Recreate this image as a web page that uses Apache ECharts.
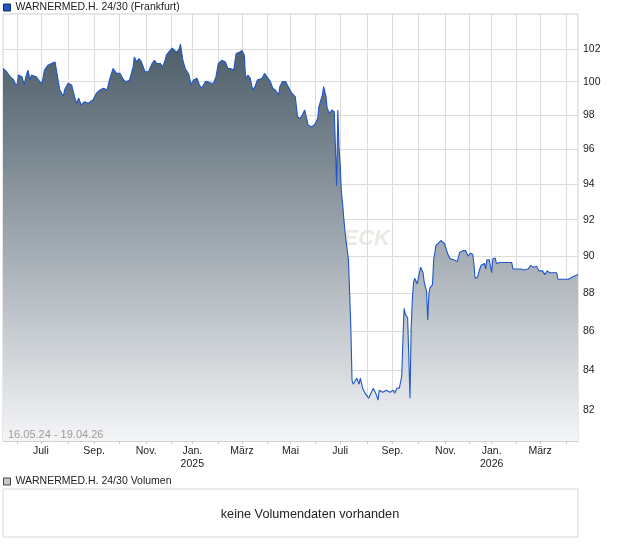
<!DOCTYPE html>
<html><head><meta charset="utf-8">
<script src="https://cdn.jsdelivr.net/npm/echarts@6/dist/echarts.min.js"></script>
<style>html,body{margin:0;padding:0;background:#fff}#c{width:620px;height:546px}</style>
</head><body><div id="c"></div>
<script>
const seriesName = 'WARNERMED.H. 24/30 (Frankfurt)';
const volumeName = 'WARNERMED.H. 24/30 Volumen';
const noVolumeText = 'keine Volumendaten vorhanden';
const rangeText = '16.05.24 - 19.04.26';
const firstDay = '2024-05-16';
const lastDay = '2026-04-17';
const holidays = ['2024-12-24','2024-12-25','2024-12-26','2024-12-31','2025-01-01','2025-04-18','2025-04-21','2025-05-01','2025-12-24','2025-12-25','2025-12-26','2025-12-31','2026-01-01','2026-04-03','2026-04-06'];
const monthNames = ['Jan.','Feb.','März','Apr.','Mai','Juni','Juli','Aug.','Sep.','Okt.','Nov.','Dez.'];
const yTicks = [82,84,86,88,90,92,94,96,98,100,102];
// trading-day number (0 = 16.05.24) and price
const priceDay = [0,3,6,9,10,12,13,14,16,18,19,21,23,24,28,31,33,35,38,41,44,45,47,48,51,52,55,58,59,62,64,65,66,69,72,76,79,82,85,88,90,93,96,99,102,104,107,110,111,113,115,117,120,123,126,128,130,133,135,137,138,140,143,145,147,149,150,152,154,157,159,161,164,166,168,171,173,176,178,180,182,185,188,190,192,195,197,200,202,204,205,207,209,211,213,215,219,221,223,226,228,230,231,233,234,236,239,241,244,247,249,251,253,255,258,261,262,264,266,267,268,270,271,273,274,276,278,280,281,282,283,284,285,286,287,288,289,290,292,293,294,295,296,297,299,301,302,304,306,309,311,313,315,317,318,321,324,327,330,331,333,335,337,338,339,340,342,343,344,345,346,347,348,350,351,353,355,356,358,359,360,361,363,364,366,368,370,373,376,378,381,384,386,389,391,393,395,397,398,399,401,403,404,407,408,409,411,413,414,416,417,420,425,430,431,435,438,440,441,444,446,448,449,451,453,456,458,460,462,468,469,473,478,479,482,486];
const priceValue = [100.8,100.6,100.3,100.1,99.9,99.8,100.4,100.4,100.3,99.8,100.2,100.7,100.1,100.4,100.3,100.0,99.9,100.7,101.0,101.1,101.2,101.1,99.9,99.5,99.1,99.5,99.9,99.8,99.5,98.7,99.0,98.9,98.6,98.8,98.7,98.9,99.3,99.5,99.6,99.5,100.1,100.8,100.5,100.5,100.1,100.0,100.1,100.9,101.5,101.2,101.4,101.2,100.6,100.6,101.1,101.3,101.1,101.1,100.9,101.3,101.6,101.8,102.05,101.9,101.8,102.0,102.3,101.3,100.8,100.45,99.8,100.1,100.2,99.8,99.6,100.0,100.0,99.9,99.9,100.3,101.1,101.3,101.2,100.8,100.8,100.7,101.7,101.8,101.9,101.6,100.2,100.4,100.2,99.5,99.7,100.1,100.2,100.5,100.3,100.0,99.6,99.5,99.6,99.2,99.7,100.0,100.0,99.7,99.3,99.1,97.9,97.8,98.0,98.3,97.4,97.3,97.2,97.5,97.8,98.5,98.5,99.2,99.7,99.1,98.4,98.1,98.3,98.2,98.3,93.9,98.3,96.1,95.1,93.6,92.9,92.1,91.4,90.8,89.8,88.0,86.2,83.5,83.3,83.3,83.6,83.3,83.6,83.1,82.85,82.6,82.85,83.1,82.85,82.5,83.0,82.9,83.0,82.9,83.0,82.85,83.1,83.1,83.7,85.5,87.2,86.9,86.7,84.7,82.6,86.2,87.7,88.6,88.8,88.5,88.55,89.4,89.1,88.6,88.1,86.6,88.0,88.3,88.45,89.8,90.6,90.7,90.85,90.7,90.1,89.85,89.8,89.7,90.2,90.3,90.3,90.0,90.15,90.1,89.6,88.8,88.85,89.3,89.5,89.6,89.3,89.8,89.8,89.1,89.85,89.9,89.6,89.65,89.65,89.65,89.3,89.3,89.3,89.25,89.3,89.3,89.5,89.4,89.5,89.45,89.2,89.2,89.0,89.2,89.1,89.1,88.75,88.75,88.75,88.85,88.9,89.0];

// trading calendar (Mon-Fri without exchange holidays)
const categories = [];
{
  const d = new Date(firstDay + 'T00:00:00Z');
  const end = new Date(lastDay + 'T00:00:00Z');
  while (d <= end) {
    const wd = d.getUTCDay();
    const s = d.toISOString().slice(0, 10);
    if (wd !== 0 && wd !== 6 && holidays.indexOf(s) < 0) categories.push(s);
    d.setUTCDate(d.getUTCDate() + 1);
  }
}
const isMonthStart = (i) => i > 0 && categories[i].slice(0, 7) !== categories[i - 1].slice(0, 7);
const isLabelMonth = (i) => isMonthStart(i) && (+categories[i].slice(5, 7)) % 2 === 1;
const priceData = priceDay.map((d, k) => [d, priceValue[k]]);

const FONT = 'Liberation Sans, Arial, sans-serif';
const chart = echarts.init(document.getElementById('c'), null, {renderer: 'canvas'});
chart.setOption({
  animation: false,
  textStyle: {fontFamily: FONT},
  legend: [
    {data: [seriesName], left: 3, top: 2, padding: 0, icon: 'rect', itemWidth: 7, itemHeight: 7,
     itemStyle: {borderColor: '#1a2a55', borderWidth: 1},
     textStyle: {fontSize: 10.5, color: '#222', fontFamily: FONT}},
    {data: [volumeName], left: 3, top: 476, padding: 0, icon: 'rect', itemWidth: 7, itemHeight: 7,
     itemStyle: {color: '#c8c8c8', borderColor: '#444', borderWidth: 1},
     textStyle: {fontSize: 10.5, color: '#222', fontFamily: FONT}}
  ],
  grid: [
    {left: 3, right: 42, top: 14, bottom: 105, show: true, borderColor: '#cfcfcf', borderWidth: 1},
    {left: 3, right: 42, top: 489, height: 48, show: true, borderColor: '#d6d6d6', borderWidth: 1}
  ],
  xAxis: [
    {type: 'category', gridIndex: 0, data: categories, boundaryGap: false,
     axisLine: {show: true, lineStyle: {color: '#cfcfcf'}},
     axisTick: {show: true, length: 3, interval: (i) => isMonthStart(i), lineStyle: {color: '#c8c8c8'}},
     axisLabel: {interval: (i) => isLabelMonth(i), color: '#222', fontSize: 10.5, margin: 4, lineHeight: 13,
       formatter: (v) => { const m = +v.slice(5, 7); return m === 1 ? monthNames[0] + '\n' + v.slice(0, 4) : monthNames[m - 1]; }},
     splitLine: {show: true, interval: (i) => isMonthStart(i), lineStyle: {color: '#dcdcdc', width: 1}}},
    {type: 'category', gridIndex: 1, data: categories, show: false}
  ],
  yAxis: [
    {type: 'log', logBase: 10, gridIndex: 0, position: 'right', min: 80.49, max: 104.17,
     axisLine: {show: false},
     axisTick: {show: false, customValues: yTicks},
     axisLabel: {customValues: yTicks, color: '#222', fontSize: 10.5, margin: 5, formatter: (v) => String(Math.round(v))},
     splitLine: {show: true, lineStyle: {color: '#dcdcdc', width: 1}}},
    {type: 'value', gridIndex: 1, show: false}
  ],
  graphic: [
    {type: 'text', z: -1, right: 230, top: 228,
     style: {text: 'CHECK', fill: '#ece8e3', font: 'italic bold 22px ' + FONT}},
    {type: 'text', z: 100, left: 8, top: 429,
     style: {text: rangeText, fill: '#a09c9a', font: '11px ' + FONT}},
    {type: 'text', z: 100, left: 'center', top: 508,
     style: {text: noVolumeText, fill: '#222', font: '12.7px ' + FONT}}
  ],
  series: [
    {name: seriesName, type: 'line', xAxisIndex: 0, yAxisIndex: 0, data: priceData,
     symbol: 'none', sampling: null, itemStyle: {color: '#1f56c8'},
     lineStyle: {color: '#1f56c8', width: 1.1},
     areaStyle: {opacity: 1, color: new echarts.graphic.LinearGradient(0, 0, 0, 1, [
       {offset: 0, color: '#4c5d69'}, {offset: 1, color: '#f4f5f7'}])}},
    {name: volumeName, type: 'bar', xAxisIndex: 1, yAxisIndex: 1, data: [],
     itemStyle: {color: '#c8c8c8'}}
  ]
});
</script>
</body></html>
